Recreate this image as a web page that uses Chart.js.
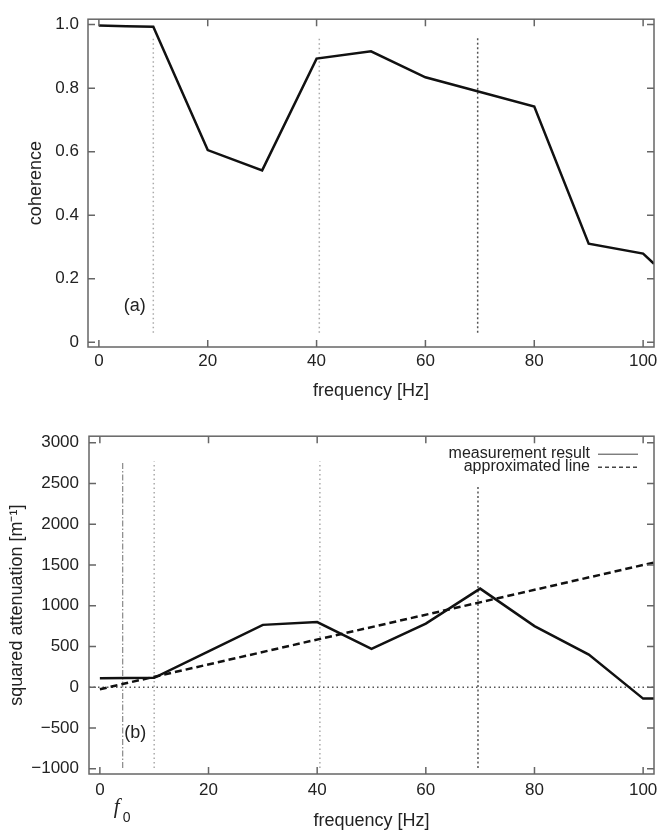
<!DOCTYPE html>
<html>
<head>
<meta charset="utf-8">
<script src="https://cdn.jsdelivr.net/npm/chart.js@4.4.0/dist/chart.umd.min.js"></script>
<style>
  html, body { margin: 0; padding: 0; background: #fff; }
  .panel { width: 671px; height: 416px; }
</style>
</head>
<body>
<div class="panel"><canvas id="chartA" width="671" height="416"></canvas></div>
<div class="panel"><canvas id="chartB" width="671" height="416"></canvas></div>
<script>
// (a) coherence
var freqA = [0, 5, 10, 20, 30, 40, 50, 60, 80, 90, 100, 102];
var coherence = [0.997, 0.995, 0.993, 0.605, 0.541, 0.893, 0.916, 0.834, 0.742, 0.31, 0.279, 0.247];
var ticksA = [0, 0.2, 0.4, 0.6, 0.8, 1.0];

// (b) squared attenuation
var freqB = [0, 10, 20, 30, 40, 50, 60, 70, 80, 90, 100, 102];
var attenuation = [110, 115, 440, 765, 800, 470, 780, 1210, 750, 400, -140, -140];
var approxFreq = [0, 102];
var approxValue = [-25, 1530];
var ticksB = [-1000, -500, 0, 500, 1000, 1500, 2000, 2500, 3000];

var freqTicks = [0, 20, 40, 60, 80, 100];
var guideFreqs = [10, 40.5, 69.6];
var guideRangeA = [0.03, 0.965];
var guideTopsB = [2770, 2770, 2480];
var guideBottomB = -990;
var f0 = 4.2;

var FONT = '"Liberation Sans", Arial, sans-serif';

function pts(xs, ys) {
  return xs.map(function(x, i) { return {x: x, y: ys[i]}; });
}

function guide(x, y0, y1, color, dash, width) {
  return {
    data: [{x: x, y: y0}, {x: x, y: y1}],
    borderColor: color, borderWidth: width || 1.5, borderDash: dash,
    pointRadius: 0, fill: false
  };
}

function guideStyle(i) {
  // the last marker line is darker and denser
  return i === 2 ? ['#555', [2, 2.5]] : ['#aaa', [1.5, 3]];
}

// box frame with inward ticks on all four sides, plus panel label
var framePlugin = {
  id: 'frame',
  afterDatasetsDraw: function(chart, args, opts) {
    var ctx = chart.ctx, a = chart.chartArea;
    var xs = chart.scales.x, ys = chart.scales.y;
    ctx.save();
    ctx.strokeStyle = '#666';
    ctx.lineWidth = 1.5;
    ctx.strokeRect(a.left, a.top, a.right - a.left, a.bottom - a.top);
    ctx.beginPath();
    xs.ticks.forEach(function(t) {
      var px = xs.getPixelForValue(t.value);
      ctx.moveTo(px, a.bottom); ctx.lineTo(px, a.bottom - 7);
      ctx.moveTo(px, a.top); ctx.lineTo(px, a.top + 7);
    });
    ys.ticks.forEach(function(t) {
      var py = ys.getPixelForValue(t.value);
      ctx.moveTo(a.left, py); ctx.lineTo(a.left + 7, py);
      ctx.moveTo(a.right, py); ctx.lineTo(a.right - 7, py);
    });
    ctx.stroke();

    ctx.fillStyle = '#222';
    ctx.font = '18px ' + FONT;
    ctx.textAlign = 'center';
    ctx.textBaseline = 'middle';
    ctx.fillText(opts.label, xs.getPixelForValue(opts.lx), ys.getPixelForValue(opts.ly));

    if (opts.legend) {
      var lx = 590, ly = a.top + 17;
      ctx.font = '16px ' + FONT;
      ctx.textAlign = 'right';
      opts.legend.forEach(function(item, i) {
        var y = ly + i * 13;
        ctx.fillStyle = '#222';
        ctx.fillText(item.text, lx, y);
        ctx.beginPath();
        ctx.strokeStyle = '#444';
        ctx.lineWidth = item.width;
        ctx.setLineDash(item.dash);
        ctx.moveTo(lx + 8, y + 1); ctx.lineTo(lx + 48, y + 1);
        ctx.stroke();
      });
      ctx.setLineDash([]);
    }

    if (opts.f0) {
      var fx = xs.getPixelForValue(opts.f0);
      ctx.fillStyle = '#222';
      ctx.textAlign = 'center';
      ctx.font = 'italic 21px "Liberation Serif", serif';
      ctx.fillText('f', fx - 6, a.bottom + 33);
      ctx.font = '14px ' + FONT;
      ctx.fillText('0', fx + 4, a.bottom + 44);
    }
    ctx.restore();
  }
};

function xAxis(height, labelPad, titlePad) {
  return {
    type: 'linear', min: -2, max: 102,
    afterBuildTicks: function(s) { s.ticks = freqTicks.map(function(v) { return {value: v}; }); },
    afterFit: function(s) { s.height = height; },
    grid: { display: false, drawTicks: false },
    border: { display: false },
    ticks: { padding: labelPad, color: '#222', autoSkip: false, maxRotation: 0,
             font: { size: 17, family: FONT } },
    title: { display: true, text: 'frequency [Hz]', color: '#222',
             font: { size: 18, family: FONT }, padding: { top: 0, bottom: titlePad } }
  };
}

function yAxis(min, max, tickList, width, labelPad, title, titlePad, fmt) {
  return {
    min: min, max: max,
    afterBuildTicks: function(s) { s.ticks = tickList.map(function(v) { return {value: v}; }); },
    afterFit: function(s) { s.width = width; },
    grid: { display: false, drawTicks: false },
    border: { display: false },
    ticks: { padding: labelPad, color: '#222', autoSkip: false,
             font: { size: 17, family: FONT }, callback: fmt },
    title: { display: true, text: title, color: '#222',
             font: { size: 18, family: FONT }, padding: { top: titlePad, bottom: 0 } }
  };
}

var dsA = [{
  data: pts(freqA, coherence),
  borderColor: '#111', borderWidth: 2.5, pointRadius: 0, fill: false
}];
guideFreqs.forEach(function(f, i) {
  var st = guideStyle(i);
  dsA.push(guide(f, guideRangeA[0], guideRangeA[1], st[0], st[1]));
});

new Chart(document.getElementById('chartA'), {
  type: 'line',
  data: { datasets: dsA },
  options: {
    responsive: false, animation: false,
    layout: { padding: { top: 9, right: 17, left: 0, bottom: 0 } },
    plugins: {
      legend: { display: false }, tooltip: { enabled: false },
      frame: { label: '(a)', lx: 6.6, ly: 0.113 }
    },
    scales: {
      x: xAxis(69, 4, 14),
      y: yAxis(-0.015, 1.017, ticksA, 88, 9, 'coherence', 25,
               function(v) { return v === 0 ? '0' : v.toFixed(1); })
    }
  },
  plugins: [framePlugin]
});

var dsB = [{
  data: pts(freqB, attenuation),
  borderColor: '#111', borderWidth: 2.5, pointRadius: 0, fill: false
}, {
  data: pts(approxFreq, approxValue),
  borderColor: '#111', borderWidth: 2.5, borderDash: [7, 4], pointRadius: 0, fill: false
}, {
  data: [{x: -2, y: 0}, {x: 102, y: 0}],
  borderColor: '#555', borderWidth: 1.5, borderDash: [1.5, 3], pointRadius: 0, fill: false
}, guide(f0, guideBottomB, guideTopsB[0], '#888', [6, 2, 1.5, 2], 1.2)];
guideFreqs.forEach(function(f, i) {
  var st = guideStyle(i);
  dsB.push(guide(f, guideBottomB, guideTopsB[i], st[0], st[1]));
});

new Chart(document.getElementById('chartB'), {
  type: 'line',
  data: { datasets: dsB },
  options: {
    responsive: false, animation: false,
    layout: { padding: { top: 20, right: 17, left: 0, bottom: 0 } },
    plugins: {
      legend: { display: false }, tooltip: { enabled: false },
      frame: {
        label: '(b)', lx: 6.5, ly: -560, f0: f0,
        legend: [
          { text: 'measurement result', dash: [], width: 1 },
          { text: 'approximated line', dash: [4, 3], width: 1.5 }
        ]
      }
    },
    scales: {
      x: xAxis(58, 6, 0),
      y: yAxis(-1065, 3080, ticksB, 89, 10, 'squared attenuation [m\u207B\u00B9]', 6,
               function(v) { return v < 0 ? '\u2212' + Math.abs(v) : String(v); })
    }
  },
  plugins: [framePlugin]
});
</script>
</body>
</html>
